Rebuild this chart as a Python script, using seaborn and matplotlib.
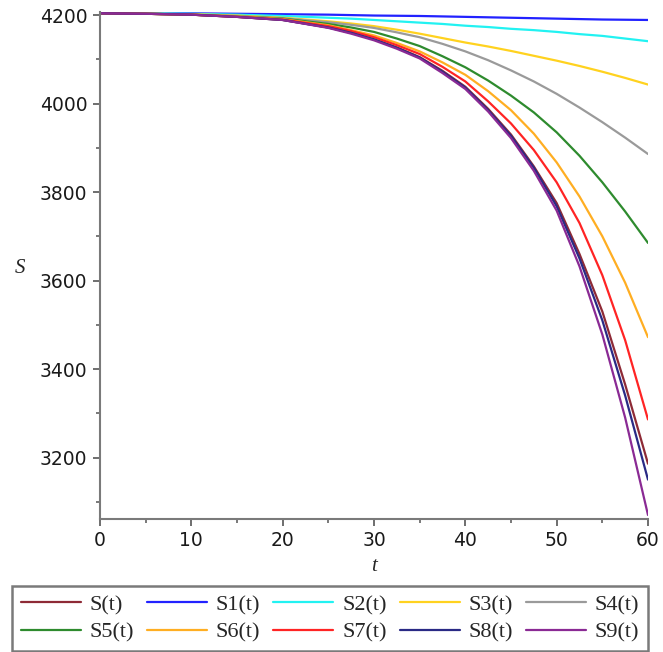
import pandas as pd
import numpy as np
import matplotlib
matplotlib.use("Agg")
import matplotlib.pyplot as plt
import seaborn as sns
from matplotlib.ticker import MultipleLocator

# values
t = [0, 5, 10, 15, 20, 25, 27.5, 30, 32.5, 35, 37.5, 40, 42.5, 45, 47.5, 50, 52.5, 55, 57.5, 60]

S  = [4204, 4203, 4201, 4196, 4189, 4172, 4160, 4145, 4127, 4105, 4074, 4038, 3988, 3930, 3858, 3775, 3660, 3530, 3365, 3186]
S1 = [4204, 4204, 4204, 4203, 4202, 4201, 4200, 4199, 4198.5, 4198, 4197, 4196, 4195, 4194, 4193, 4192, 4191, 4190, 4189.5, 4189]
S2 = [4204, 4204, 4203, 4201, 4198, 4194, 4192, 4189, 4186, 4183, 4180, 4176, 4173, 4169, 4166, 4162, 4157, 4153, 4147, 4141]
S3 = [4204, 4203, 4202, 4199, 4194, 4186, 4181, 4175, 4167, 4158, 4148, 4138, 4129, 4119, 4108, 4097, 4085, 4072, 4058, 4043]
S4 = [4204, 4203, 4201, 4198, 4193, 4184, 4178, 4171, 4161, 4150, 4135, 4118, 4098, 4075, 4050, 4022, 3991, 3958, 3923, 3886]
S5 = [4204, 4203, 4201, 4197, 4192, 4180, 4172, 4162, 4147, 4130, 4107, 4082, 4052, 4018, 3980, 3935, 3882, 3822, 3756, 3685]
S6 = [4204, 4203, 4201, 4197, 4191, 4177, 4166, 4154, 4137, 4118, 4093, 4065, 4028, 3985, 3932, 3867, 3790, 3700, 3595, 3472]
S7 = [4204, 4203, 4201, 4196, 4190, 4175, 4164, 4150, 4132, 4112, 4083, 4050, 4005, 3955, 3895, 3822, 3730, 3612, 3465, 3286]
S8 = [4204, 4203, 4201, 4196, 4189, 4172, 4160, 4145, 4126, 4104, 4072, 4036, 3985, 3927, 3855, 3768, 3650, 3510, 3340, 3150]
S9 = [4204, 4203, 4201, 4196, 4189, 4171, 4158, 4143, 4124, 4102, 4069, 4033, 3982, 3922, 3848, 3758, 3632, 3478, 3290, 3070]

names = ['S(t)', 'S1(t)', 'S2(t)', 'S3(t)', 'S4(t)',
         'S5(t)', 'S6(t)', 'S7(t)', 'S8(t)', 'S9(t)']
colors = ['#8E2A36', '#2222FF', '#22F2F2', '#FFD21F', '#9A9A9A',
          '#2E8B2E', '#FFAE22', '#FF2424', '#2A2A85', '#8A2A94']

df = pd.DataFrame({'t': t, names[0]: S, names[1]: S1, names[2]: S2,
                   names[3]: S3, names[4]: S4, names[5]: S5, names[6]: S6,
                   names[7]: S7, names[8]: S8, names[9]: S9})
long = df.melt(id_vars='t', var_name='curve', value_name='S')

sns.set_style('white')

fig = plt.figure(figsize=(6.63, 6.52), dpi=100)
ax = fig.add_axes([100/663, 1 - 519/652, 548/663, (519 - 12)/652])

sns.lineplot(data=long, x='t', y='S', hue='curve', hue_order=names,
             palette=dict(zip(names, colors)), linewidth=1.6,
             errorbar=None, legend=False, ax=ax)

ax.set_xlim(0, 60)
ax.set_ylim(3061, 4207)

# Maple-like axes
for side in ['top', 'right']:
    ax.spines[side].set_visible(False)
for side in ['left', 'bottom']:
    ax.spines[side].set_color('#7a7a7a')
    ax.spines[side].set_linewidth(1.5)

ax.xaxis.set_major_locator(MultipleLocator(10))
ax.xaxis.set_minor_locator(MultipleLocator(5))
ax.yaxis.set_major_locator(MultipleLocator(200))
ax.yaxis.set_minor_locator(MultipleLocator(100))
ax.tick_params(which='major', direction='out', length=5, width=1.2,
               color='#555555', labelsize=13.5, labelcolor='#1a1a1a', pad=4,
               bottom=True, left=True)
ax.tick_params(which='minor', direction='out', length=3, width=1.1,
               color='#555555', bottom=True, left=True)

ax.set_xlabel('t', fontstyle='italic', family='Liberation Serif', fontsize=15)
ax.xaxis.set_label_coords(0.5, -0.075)
ax.set_ylabel('S', fontstyle='italic', family='Liberation Serif', fontsize=15,
              rotation=0, ha='center', va='center')
ax.yaxis.set_label_coords(-0.146, 0.495)

# legend reads row by row in the reference, matplotlib fills by column
lines = ax.get_lines()
order = [0, 5, 1, 6, 2, 7, 3, 8, 4, 9]
leg = ax.legend([lines[i] for i in order], [names[i] for i in order],
                ncol=5, mode='expand', loc='center',
                bbox_to_anchor=(12/663, 1 - 650/652, 636/663, 63/652),
                bbox_transform=fig.transFigure, frameon=True, fancybox=False,
                framealpha=1, edgecolor='#7a7a7a', borderaxespad=0,
                handlelength=2.7, handletextpad=0.4, labelspacing=0.3,
                prop={'family': 'Liberation Serif', 'size': 16})
leg.get_frame().set_linewidth(1.8)

fig.savefig('out.png', dpi=100)
